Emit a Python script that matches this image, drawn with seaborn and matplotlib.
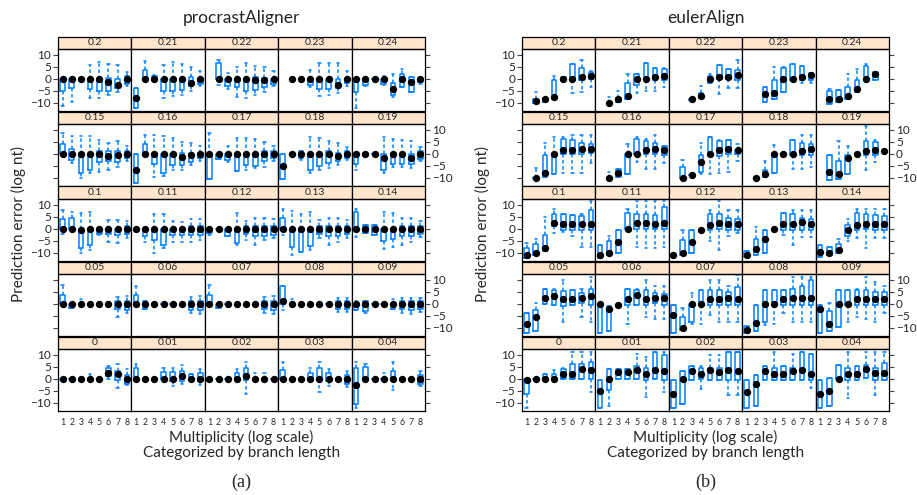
import numpy as np
import pandas as pd
import seaborn as sns
import matplotlib.pyplot as plt
from matplotlib.patches import Rectangle

# multiplicity levels (x axis of each panel) and branch-length panels, top row first
mult_levels = ["1", "2", "3", "4", "5", "6", "7", "8"]
branch_rows = [["0.2", "0.21", "0.22", "0.23", "0.24"],
               ["0.15", "0.16", "0.17", "0.18", "0.19"],
               ["0.1", "0.11", "0.12", "0.13", "0.14"],
               ["0.05", "0.06", "0.07", "0.08", "0.09"],
               ["0", "0.01", "0.02", "0.03", "0.04"]]

# each box: (whisker low, q1, median, q3, whisker high); a number = only a dot; None = empty
# procrastAligner
A_020 = [(-11.4, -4.9, 0, 0, 0), (-9.6, -3.9, 0, 0, 0), 0, (-8.1, -4.1, 0, 0, 5.9), (-7.9, -4.9, 0, 0, 6.9), (-6.7, -4.9, -1.4, 0.4, 6.1), (-5.7, -3.9, -2.4, 0.1, 5.7), (-3.1, -2, 0, 1.1, 3)]
A_021 = [(-12, -12, -7.9, -3.9, -3.9), (0, 0, 0, 3.6, 7.6), (0, 0, 0, 1, 1.5), (-8.1, -4.9, 0, 0, 5.7), (-7.1, -4.9, 0, 0, 6.9), (-6.7, -4.6, 0, 0, 6.1), (-5, -3.1, -1.7, 0.9, 5.1), (-3.1, -2, 0, 0, 3.3)]
A_022 = [None, (-2.7, 0, 0, 6.6, 7.9), (-4.3, -3.1, 0, 0, 2.6), (-7.7, -3.4, 0, 0, 5), (-7.9, -4.9, 0, 0, 6.6), (-6.7, -4.6, -0.7, 0.9, 5.4), (-5.3, -3.4, -0.7, 0.4, 5), (-3.1, -2.1, 0, 0, 3.3)]
A_023 = [None, 0, 0, (-3.3, -2.4, 0, 0, 3.7), (-7, -4.3, 0, 0, 6.4), (-6.7, -4.3, 0, 0, 6.4), (-6, -3.9, -2.7, 0, 6.4), (-3.1, -1.7, 0, 0, 3.3)]
A_024 = [(-12.1, -5.3, 0, 0, 0), (-3.1, -2.4, 0, 0, 0), 0, (-2.5, -2, 0, 0, 1.1), (-7.4, -6.9, -4.2, -1.7, 2), (-3.5, -3.5, 0, 2, 4), (-5.3, -5.3, -1.4, 0.7, 0.7), (-2, -1.5, 0, 0, 0)]
A_015 = [(0, 0, 0, 4, 8.6), (-3.9, -2.4, 0, 1.9, 7.6), (-10, -8.1, 0, 0, 7.6), (-8.1, -6.7, 0, 0, 7.3), (-7.4, -3.6, 0, 1.1, 5.7), (-6.7, -3.1, -1, 1.1, 4.7), (-5.3, -3.6, -0.7, 1.1, 5.4), (-3.1, -1.7, 0, 1.1, 3.3)]
A_016 = [(-12, -12, -6.7, 0, 0), (0, 0, 0, 4, 8), (-9.6, -4.3, 0, 0, 7.9), (-9.3, -7.9, 0, 0, 7.6), (-6.7, -4.6, 0, 0, 6.7), (-6.7, -4.6, -1.4, 0.4, 5), (-4.6, -3.6, -0.7, 0.4, 4.7), (-3.1, -1.7, 0, 0.4, 3.3)]
A_017 = [(-10.3, -10.3, 0, 0, 8.6), (-2.1, -2.1, 0, 0, 0), (-3.5, -2.7, 0, 0, 3.3), (-7.1, -7.1, 0, 0, 6.4), (-6.7, -4.6, 0, 0, 6.4), (-6, -5, 0, 0, 6.1), (-5.3, -3.1, 0, 1.1, 5), (-3.1, -1.7, 0, 1.1, 3.3)]
A_018 = [(-10.6, -10.6, -5, 0, 0), 0, (-2.5, -1.7, 0, 1.1, 1.1), (-8.1, -6.7, 0, 0, 6.9), (-6.7, -5, 0, 0, 6.4), (-6, -3.9, 0, 1.1, 5.4), (-4.6, -3.1, -1, 0.4, 4.7), (-2.7, -1.7, 0, 1.1, 2.9)]
A_019 = [(-6.7, -4.1, 0, 0, 0), 0, 0, (-8.1, -6.7, -1.7, 0, 6.9), (-5.6, -4.3, 0, 0, 6.1), (-5.3, -4.3, 0, 0, 5.7), (-6, -4.3, -1.7, 0, 5.4), (-3.1, -2.1, 0, 1.1, 2.9)]
A_010 = [(-2, 0, 0, 4, 8), (0, 0, 0, 4.4, 6.9), (-10, -8.1, -0.3, 0, 6.6), (-8.9, -6.7, 0, 0, 6.9), (-2.5, -2.1, 0, 0, 0), (-5.7, -2.1, 0, 0, 3.6), (-6, -2.4, 0, 0, 3.6), (-3.9, -2.1, 0, 1.1, 3.3)]
A_011 = [0, (-5.7, -3.1, 0, 0, 0), (-10, -4.6, 0, 0, 6.1), (-8.1, -6.7, 0, 0, 6.1), (-5.3, -2.4, 0, 0, 3.3), (-5.3, -2.4, 0, 0, 2.9), (-5.3, -2.7, 0, 1.1, 4), (-4.6, -2.7, 0, 1.1, 4)]
A_012 = [(-2.4, -1.7, 0, 0, 0), 0, (-3.1, -2.9, 0, 0, 0), (-6.7, -6, 0, 0, 6.4), (-4.6, -2.1, 0, 1.1, 3.3), (-6.7, -2.9, 0, 1.1, 4.3), (-4.6, -2.9, 0, 1.1, 4.3), (-3.9, -2.4, 0, 1.1, 4)]
A_013 = [(-2.4, 0, 0, 4.3, 8.3), (-11, -7.7, 0, 0, 7.6), (-9.6, -9.6, 0, 0, 6.1), (-9, -7.1, 0, 0, 7.1), (-3.9, -2.1, 0, 1.1, 3.6), (-6.7, -3.1, 0, 1.1, 4.7), (-5.3, -3.1, 0, 1.1, 4.3), (-3.9, -2.1, 0, 1.1, 3.6)]
A_014 = [(-3.6, 0, 0, 7.1, 8.3), (-1.7, -1.7, 0, 1.6, 1.6), (-2.4, -2.4, 0, 1.4, 1.4), (-8.6, -4.9, 0, 0, 7.1), (-7.7, -4.3, 0, 0, 6.6), (-6.7, -3.1, 0, 1.1, 4.4), (-5.3, -3.1, 0, 1.1, 4.7), (-3.4, -2.1, 0, 1.1, 3.3)]
A_005 = [(0, 0, 0, 3.7, 7.9), (-1.7, -1.7, 0, 0, 0), (0, 0, 0, 0, 1.9), 0, 0, 0, (-5.3, -2.1, 0, 1.1, 2.9), (-3.9, -2.4, 0, 1.1, 3.3)]
A_006 = [(0, 0, 0, 3.6, 7.6), (-2.1, -2.1, 0, 1.1, 1.1), 0, 0, 0, 0, (-3.9, -2.4, 0, 1.1, 2.9), (-4.1, -2.4, 0, 1.1, 3.3)]
A_007 = [(0, 0, 0, 3.6, 7.9), (-1.7, -1.7, 0, 0, 0), 0, 0, 0, 0, (-3.9, -2.1, 0, 1.1, 2.9), (-4.1, -2.4, 0, 1.1, 3.3)]
A_008 = [(-2.4, 0, 1.1, 7.6, 7.6), (0, 0, 0, 0, 1.9), 0, 0, 0, 0, (-3.6, -2.1, 0, 1.1, 2.6), (-3.6, -2.1, 0, 1.1, 2.6)]
A_009 = [(-2.4, -2.4, 0, 0, 1.1), (-3.9, -3.1, 0, 1.1, 1.1), 0, 0, (-2.1, -2.1, 0, 0, 1.9), (-3.9, -2.1, 0, 1.1, 2.6), (-4.1, -2.4, 0, 1.1, 2.6), (-3.4, -2.1, 0, 1.1, 2.6)]
A_000 = [0, 0, 0, (0, 0, 0, 0.5, 2.1), 0, (0, 1.1, 2.6, 4.7, 5.4), (-3.9, -0.3, 1.9, 3.3, 6.1), (-2.4, -2.1, 0, 1.4, 4)]
A_001 = [(0, 0, 0, 4.3, 6.1), 0, 0, (0, 0, 0, 2.9, 4.7), (-2.9, -1, 0, 2.9, 4.7), (-2, -1, 1.1, 3.3, 5.7), (0, 0, 0, 1.9, 1.9), (-2.4, -1, 0, 2.3, 4)]
A_002 = [0, 0, 0, (0, 0, 0, 2.3, 4), (-6.3, -0.3, 1.1, 4.3, 6.9), (0, 0, 0, 0, 2.3), (0, 0, 0, 0, 2.3), 0]
A_003 = [(0, 0, 0, 3.7, 7.1), 0, 0, (0, 0, 0, 2.3, 4.7), (-5.7, 0, 0, 4.3, 7.1), (-3.1, -1, 0, 2.3, 4), 0, (-3.6, -2, 0, 1.4, 3.3)]
A_004 = [(-12, -10.3, -2.4, 4.7, 7.1), (0, 0, 0, 5, 6.1), 0, (0, 0, 0, 0, 2.3), (-4.6, 0, 0, 3.3, 7.1), 0, 0, (-3, -2, 0, 1.4, 3.3)]

# eulerAlign
B_020 = [None, (-10, -10, -9.3, -8.5, -5.7), (-9.5, -9.5, -8.6, -8, -8), (-8.2, -8.2, -7.5, -0.3, 1.3), (-0.6, -0.6, 0, 0.8, 0.8), (-5.8, -0.6, 0, 6, 6), (-5.4, -0.6, 0.8, 4.3, 8), (-3.3, 0.1, 1.2, 2.9, 3.3)]
B_021 = [None, (-9.9, -9.9, -9.9, -9.9, -7.5), (-9.5, -9.5, -8.6, -8, -5), (-8.2, -8.2, -7.2, -1.9, 1.8), (-6.1, -2.6, 0, 1.8, 1.8), (-5, -0.3, 0, 6.4, 6.4), (-5, -0.3, 0.8, 4.6, 4.6), (-3.6, -0.3, 1.2, 3.9, 4.6)]
B_022 = [None, None, (-9, -9, -8.6, -8.6, -8.6), (-8, -8, -7.1, -6, -3.1), (-1.7, -1.7, 0, 1.1, 2.1), (-6.3, 0, 0.9, 5.7, 5.7), (-3.9, 0, 0.9, 4, 4), (-3.9, -0.3, 1.4, 3.6, 8)]
B_023 = [None, None, (-9.6, -9.6, -6.5, -3.6, -3.6), (-8.5, -8.5, -6.1, -0.6, 5), (-5.7, -5.7, 0, 4.6, 5), (-1, -0.6, 0, 6, 6), (-1.9, -0.6, 0.8, 5.4, 5.4), (-1.9, -0.3, 1.5, 2.5, 2.5)]
B_024 = [None, (-10.6, -10.6, -8.5, -5.1, -4.4), (-9.6, -9.6, -8.5, -4.7, -4.7), (-8.2, -8.2, -7.2, -3.6, 1.8), (-5.4, -5.4, -4.4, -0.6, 3.9), (-1.2, -0.6, 0, 5.4, 6), (-0.3, -0.3, 1.8, 2.9, 2.9), None]
B_015 = [None, (-10, -10, -10, -10, -6), (-9.6, -9.6, -8.1, -0.3, 4.7), (-8.6, -8.6, 0, 0, 6.9), (-8.1, 0, 1.4, 6.1, 6.9), (-8.1, 0, 1.4, 5.7, 8), (-8.1, 0, 1.9, 4.7, 8), (-3.9, 0.4, 1.9, 4, 8)]
B_016 = [None, (-10, -10, -10, -10, -7.4), (-9.5, -9.5, -7.9, -6.5, -6.5), (-8.4, -8.4, 0, 0, 4), (-3.6, 0, 0, 6.1, 6.9), (-6.4, 0, 1.4, 5.4, 6.1), (-6.4, 0, 1.9, 4.7, 8), (-3.9, -0.3, 1.4, 3.3, 3.3)]
B_017 = [None, (-10, -10, -10, -5.7, -2.4), (-9, -9, -8.9, -8.9, -8.9), (-8.6, -7.4, -3.6, -0.3, 4.3), (-8.6, 0, 0, 6.9, 6.9), (-8.1, -1, 1.4, 5.4, 5.7), (-7.4, 0, 1.9, 5.7, 5.7), (-3.1, 0, 1.4, 1.4, 4)]
B_018 = [None, -10, (-9.6, -9.6, -8.6, -6.7, -2.9), (-7.9, -7.9, 0, 0, 3.6), 0, (-6.4, -0.3, 0, 5.7, 5.7), (-6.4, -0.3, 1.1, 4.4, 8), (-5.3, -0.3, 1.9, 4, 8)]
B_019 = [None, (-11, -11, -7.4, -0.3, -0.3), (-10.3, -10.3, -8.6, -3.1, 5.4), (-8.6, -8.6, -1.7, -0.3, 3.3), 0, (-6.7, -0.3, 1.1, 5.4, 11.6), (-3.6, -0.3, 1.4, 5, 5.7), 1.1]
B_010 = [(-12, -12, -10.7, -7.9, -6), (-11, -11, -10, -6.3, -4.3), (-9.1, -9.1, -8.1, -2.7, 5), (-1.7, 1.1, 2.6, 6.1, 8.3), (-1.4, -0.3, 1.9, 6.1, 6.1), (-3.1, -0.3, 1.9, 5.7, 5.7), (-7.7, -0.3, 1.9, 5.4, 6.1), (-7.7, -0.3, 1.9, 7.9, 11.4)]
B_011 = [(-12, -12, -11, -6.7, -6.7), (-11, -11, -10, -4.9, -3.1), (-10, -10, -5.7, -0.3, -0.3), (0, 0, 0, 6.6, 8.3), (-7.7, 0, 2.6, 6.1, 11.4), (-8.1, 0, 2.6, 6.1, 11.4), (-8.1, 0, 1.9, 5.7, 11.4), (-7.7, 0, 2.6, 9, 11.4)]
B_012 = [-10.7, (-11, -11, -10, -4.6, -0.3), (-10, -10, -5.7, -0.3, -0.3), -0.3, (-4.9, -0.3, 1.4, 6.1, 8), (-8.9, 0, 2.6, 6.1, 11.4), (-3.1, -0.3, 2.1, 4.3, 8), (-1.7, -0.3, 1.9, 4, 8)]
B_013 = [(-11.7, -11.7, -11, -9.3, -9.3), (-11, -11, -8.6, -4.1, 0.9), (-10, -10, -4.3, -0.3, -0.3), 0, (-2.4, -0.3, 1.9, 6.4, 6.4), (-6.7, -0.3, 1.9, 6.1, 8), (-3.4, -0.3, 2.9, 4.7, 8), (-3.4, -0.3, 1.9, 4, 8)]
B_014 = [(-11.7, -11.7, -9.6, -6.7, -6.7), (-11, -11, -10, -7.4, -7.4), (-10, -10, -8.9, -6.3, -4.3), (-5, -3.1, -0.3, 1.4, 4), (-3.9, -0.3, 1.4, 6.6, 8.3), (-8.1, 0, 1.9, 6.1, 8.3), (-3.9, -0.3, 1.9, 5.7, 8.3), (-3.9, -0.3, 1.9, 5.4, 8.3)]
B_005 = [(-12.1, -12.1, -8.6, -3.9, -3.9), (-11.3, -11.3, -5.7, -2.4, 0.4), (0, 0, 2.6, 6.1, 6.1), (-0.3, -0.3, 3.3, 5.7, 6.1), (-7.4, -1, 2.1, 5.4, 10), (-0.3, -0.3, 1.9, 5.7, 5.7), (-5.3, 0.4, 2.6, 4.7, 6.1), (-7.4, -0.3, 3.3, 6.1, 11.1)]
B_006 = [(-12.1, -12.1, 0, 0, 0), (-11.3, -11.3, -2.1, -1, -1), -0.3, (-8.6, -0.3, 1.9, 6.1, 6.1), (-0.3, -0.3, 3.6, 5.7, 6.1), (-5.3, -0.3, 2.1, 5.7, 10), (-6.4, 0.4, 2.6, 4.7, 7.6), (-6.4, -0.3, 2.6, 4, 7.6)]
B_007 = [(-12.1, -12.1, -4.6, -0.3, -0.3), (-11, -11, -10, -5.3, -1.7), (-8.4, -7.4, 0, 0, 4.4), (-8.4, -0.3, 0, 5.7, 5.7), (-4.6, -0.3, 2.1, 5.7, 10), (-7.4, -0.3, 2.1, 5.7, 10), (-7.4, -0.3, 2.6, 5, 7.6), (-7.4, -0.3, 2.1, 6.9, 12.1)]
B_008 = [(-12.1, -12.1, -11, -9.3, -9.3), (-11.3, -11.3, -7.9, -0.3, -0.3), (-8.9, -7.4, 0, 5.7, 5.7), (-8.6, -0.3, 0, 5.7, 5.7), (-3.9, -0.3, 1.9, 5.7, 5.7), (-7.4, -0.3, 2.6, 6.1, 11.1), (-7.4, -0.3, 2.6, 7.6, 11.1), (-7.4, -0.3, 2.6, 9.7, 11.1)]
B_009 = [(-12.1, -12.1, -2.1, -0.3, -0.3), (-11.3, -11.3, -8.6, -3.1, 0.4), (-9.6, -9.6, 0, 5.7, 5.7), (-7.4, -0.3, 0, 5.7, 5.7), (-5.7, -0.3, 1.9, 5.7, 6.1), (-6.4, -0.3, 1.9, 5.7, 11.1), (-7.4, -0.3, 2.1, 5, 9), (-3.9, -0.3, 2.1, 5, 7.6)]
B_000 = [(-12, -6.3, -0.3, 0, 0), 0, (0, 0, 0, 1.9, 1.9), (0, 0, 0, 1.9, 3.7), (0, 0, 1.9, 4, 4.4), (0, 0, 2.1, 6.1, 11.1), (0, 0, 4, 6.1, 11.1), (-5.3, 0, 3.6, 6.9, 11.1)]
B_001 = [(-12, -12, -5, -0.3, -0.3), (-11.4, -4.6, 0, 4, 4), (0, 0, 2.9, 4, 4), (0, 0, 2.9, 4, 4), (0, 0, 3.6, 5.4, 10.4), (-7.4, -0.3, 2.1, 4.7, 9), (0, 0, 3.6, 11.1, 11.1), (-5.7, -0.3, 3.3, 9.7, 11.1)]
B_002 = [(-12, -12, -6.3, -0.3, -0.3), (-10.3, -10.3, 0, 3.3, 3.3), (-0.3, -0.3, 3.3, 5.4, 5.4), (-4.3, 0, 2.1, 4.3, 5.4), (-0.3, -0.3, 3.6, 4.7, 9.7), (-0.3, -0.3, 2.9, 4.7, 9.7), (-6.7, -0.3, 3.6, 11.1, 11.1), (-6.7, -0.3, 3.3, 11.1, 11.1)]
B_003 = [(-12, -12, -5.7, -0.3, -0.3), (-11.4, -11.4, -2.1, 1.4, 1.4), (-0.3, -0.3, 3.3, 5.4, 5.4), (-0.3, -0.3, 2.1, 4.7, 11.1), (-0.3, -0.3, 1.9, 5.4, 5.4), (-0.3, -0.3, 3.3, 4.7, 10.4), (-0.3, -0.3, 3.6, 11.1, 11.1), (-3.9, -0.3, 2.1, 10.4, 10.4)]
B_004 = [(-12, -12, -6.3, -0.3, -0.3), (-11.4, -11.4, -5, 0.4, 0.4), (0, 0, 0, 5.7, 5.7), (-8.1, -0.3, 2.1, 4.7, 11.1), (-0.3, -0.3, 2.1, 5.4, 5.4), (0.4, 0.4, 4, 5.7, 11.1), (-6.7, -0.3, 2.6, 4.7, 11.1), (-0.3, -0.3, 2.6, 6.4, 11.1)]

procrast_rows = [[A_020, A_021, A_022, A_023, A_024],
                 [A_015, A_016, A_017, A_018, A_019],
                 [A_010, A_011, A_012, A_013, A_014],
                 [A_005, A_006, A_007, A_008, A_009],
                 [A_000, A_001, A_002, A_003, A_004]]
euler_rows = [[B_020, B_021, B_022, B_023, B_024],
              [B_015, B_016, B_017, B_018, B_019],
              [B_010, B_011, B_012, B_013, B_014],
              [B_005, B_006, B_007, B_008, B_009],
              [B_000, B_001, B_002, B_003, B_004]]

BLUE = "#0080ff"
STRIP = "#ffe5cc"

sns.set_theme(style="ticks")
plt.rcParams["font.family"] = ["Lato", "DejaVu Sans"]

W, H = 917, 495
fig = plt.figure(figsize=(W / 100, H / 100), dpi=100)

col_w = 73.4
row_h = 75
panel_h = 62
strip_h = 12.5
panel_top = 49


def five(b):
    if b is None:
        return None
    if np.isscalar(b):
        return (b,) * 5
    return b


def draw_lattice(rows, x0, title, tag):
    for r, (labels, panels) in enumerate(zip(branch_rows, rows)):
        for c, (lab, boxes) in enumerate(zip(labels, panels)):
            top = panel_top + r * row_h
            ax = fig.add_axes([(x0 + c * col_w) / W, 1 - (top + panel_h) / H,
                               col_w / W, panel_h / H])
            recs, meds = [], []
            for m, b in zip(mult_levels, boxes):
                vals = five(b)
                if vals is None:
                    continue
                recs += [(m, v) for v in vals]
                meds.append((m, vals[2]))
            df = pd.DataFrame(recs, columns=["mult", "err"])
            md = pd.DataFrame(meds, columns=["mult", "err"])
            sns.boxplot(data=df, x="mult", y="err", order=mult_levels, ax=ax,
                        color=BLUE, saturation=1, fill=False, width=0.5,
                        linewidth=1.1, whis=(0, 100), showfliers=False,
                        medianprops={"visible": False},
                        whiskerprops={"linestyle": (0, (2.2, 1.8))})
            sns.stripplot(data=md, x="mult", y="err", order=mult_levels, ax=ax,
                          jitter=False, color="black", size=5.3, zorder=4)
            ax.set_xlim(-0.5, 7.5)
            ax.set_ylim(-13.4, 12.4)
            ax.set_xlabel("")
            ax.set_ylabel("")
            ax.set_yticks([-10, -5, 0, 5, 10])
            ax.tick_params(axis="y", left=(c == 0), right=(c == 4),
                           labelleft=(c == 0 and r % 2 == 0),
                           labelright=(c == 4 and r % 2 == 1),
                           length=3.5, width=0.8, color="#444444",
                           labelsize=8.5, pad=1.5)
            ax.tick_params(axis="x", bottom=False, top=False, length=0,
                           labelbottom=(r == 4), labelsize=6.3, pad=5)
            for s in ax.spines.values():
                s.set_color("black")
                s.set_linewidth(0.9)
            sh = strip_h / panel_h
            ax.add_patch(Rectangle((0, 1), 1, sh, transform=ax.transAxes,
                                   facecolor=STRIP, edgecolor="black",
                                   linewidth=0.9, clip_on=False))
            ax.text(0.5, 1 + sh / 2, lab, transform=ax.transAxes,
                    ha="center", va="center", fontsize=7.5)

    cx = (x0 + 2.5 * col_w) / W
    fig.text(cx, 1 - 18 / H, title, ha="center", va="center", fontsize=12.5)
    fig.text(cx, 1 - 437 / H, "Multiplicity (log scale)", ha="center",
             va="center", fontsize=11)
    fig.text(cx, 1 - 453 / H, "Categorized by branch length", ha="center",
             va="center", fontsize=11)
    fig.text(cx, 1 - 482 / H, tag, ha="center", va="center", fontsize=13,
             family="Liberation Serif")
    fig.text((x0 - 40) / W, 1 - 224 / H, "Prediction error (log nt)",
             rotation=90, ha="center", va="center", fontsize=11)


draw_lattice(procrast_rows, 58, "procrastAligner", "(a)")
draw_lattice(euler_rows, 522, "eulerAlign", "(b)")

fig.savefig("out.png", dpi=100)
